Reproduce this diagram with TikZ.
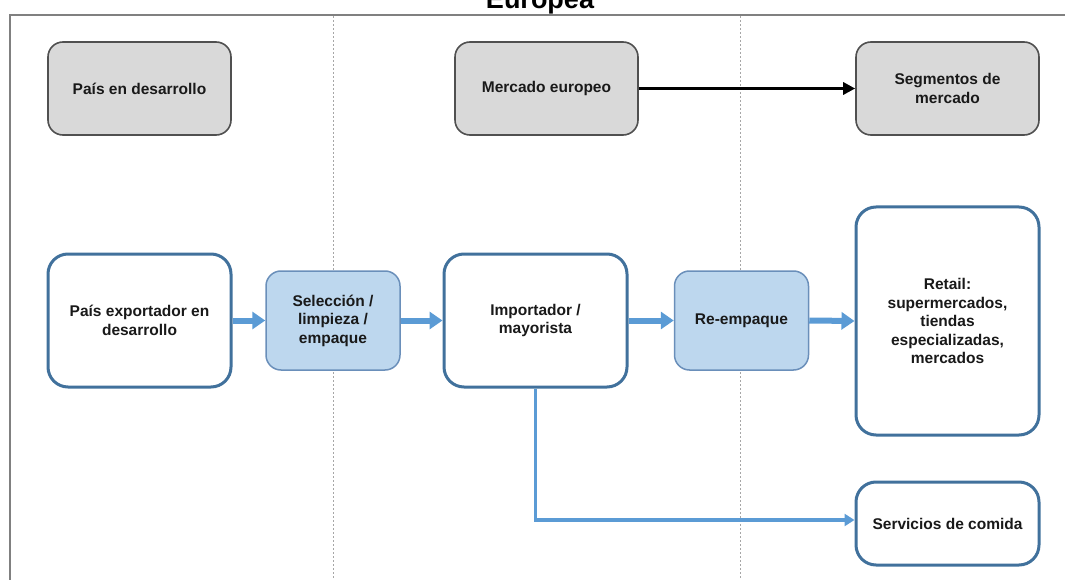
\documentclass[tikz,border=0pt]{standalone}
\usepackage{fontspec}
\setmainfont{Liberation Sans}
\usetikzlibrary{arrows.meta}
\definecolor{bord}{HTML}{41719C}
\definecolor{lbfill}{HTML}{BDD7EE}
\definecolor{lbbord}{HTML}{6A8FBA}
\definecolor{arr}{HTML}{5B9BD5}
\definecolor{gfill}{HTML}{D9D9D9}
\definecolor{gbord}{HTML}{505050}
\tikzset{
  txt/.style={font=\fontsize{15.5}{18.5}\selectfont\bfseries, align=center, text=black!90},
  graybox/.style={txt, draw=gbord, fill=gfill, line width=1.6pt, rounded corners=15pt, minimum width=183pt, minimum height=93pt, inner sep=0pt},
  whitebox/.style={txt, draw=bord, fill=white, line width=3pt, rounded corners=20pt, inner sep=0pt},
  bluebox/.style={txt, draw=lbbord, fill=lbfill, line width=1.5pt, rounded corners=15pt, minimum width=134pt, minimum height=99pt, inner sep=0pt},
  flow/.style={draw=arr, line width=6pt, -{Triangle[length=13pt,width=17pt]}},
  thinflow/.style={draw=arr, line width=3.2pt, -{Triangle[length=10pt,width=12pt]}},
  lane/.style={draw=gray!70, line width=0.8pt, dash pattern=on 2pt off 2pt},
  frame/.style={draw=gray, line width=2pt}
}
\begin{document}
\begin{tikzpicture}[x=1pt,y=-1pt]
\useasboundingbox (0,0) rectangle (1065,580);
\begin{scope}
\clip (0,0) rectangle (1065,580);
\node[font=\fontsize{27}{30}\selectfont\bfseries, anchor=base] (title) at (540,9) {Europea};
\end{scope}
% frame and lanes
\coordinate (ftl) at (9.5,15);
\coordinate (ftr) at (1065,15);
\coordinate (fbl) at (9.5,580);
\draw[frame] (fbl) -- (ftl) -- (ftr);
\coordinate (l1t) at (333,16);
\coordinate (l1b) at (333,580);
\coordinate (l2t) at (740,16);
\coordinate (l2b) at (740,580);
\draw[lane] (l1t) -- (l1b);
\draw[lane] (l2t) -- (l2b);
% top row
\node[graybox] (pd) at (139.5,88.5) {País en desarrollo};
\node[graybox] (me) at (546.5,88.5) {Mercado europeo};
\node[graybox] (sm) at (947.5,88.5) {Segmentos de\\mercado};
\draw[line width=3pt, -{Triangle[length=12pt,width=12pt]}] (me.east) -- (sm.west);
% main row
\node[whitebox, minimum width=183pt, minimum height=133pt] (pe) at (139.5,320.5) {País exportador en\\desarrollo};
\node[bluebox] (sel) at (333,320.5) {Selección /\\limpieza /\\empaque};
\node[whitebox, minimum width=183pt, minimum height=133pt] (imp) at (535.5,320.5) {Importador /\\mayorista};
\node[bluebox] (re) at (741.5,320.5) {Re-empaque};
\node[whitebox, minimum width=183pt, minimum height=228pt] (ret) at (947.5,321) {Retail:\\supermercados,\\tiendas\\especializadas,\\mercados};
\node[whitebox, minimum width=183pt, minimum height=83pt] (sc) at (947.5,523.5) {Servicios de comida};
\draw[flow] (pe.east) -- (sel.west);
\draw[flow] (sel.east) -- (imp.west);
\draw[flow] (imp.east) -- (re.west);
\draw[flow] (re.east) -- (ret.west);
\coordinate (br) at (535.5,520);
\draw[thinflow] (imp.south) -- (br) -- (sc.west |- br);
\end{tikzpicture}
\end{document}
